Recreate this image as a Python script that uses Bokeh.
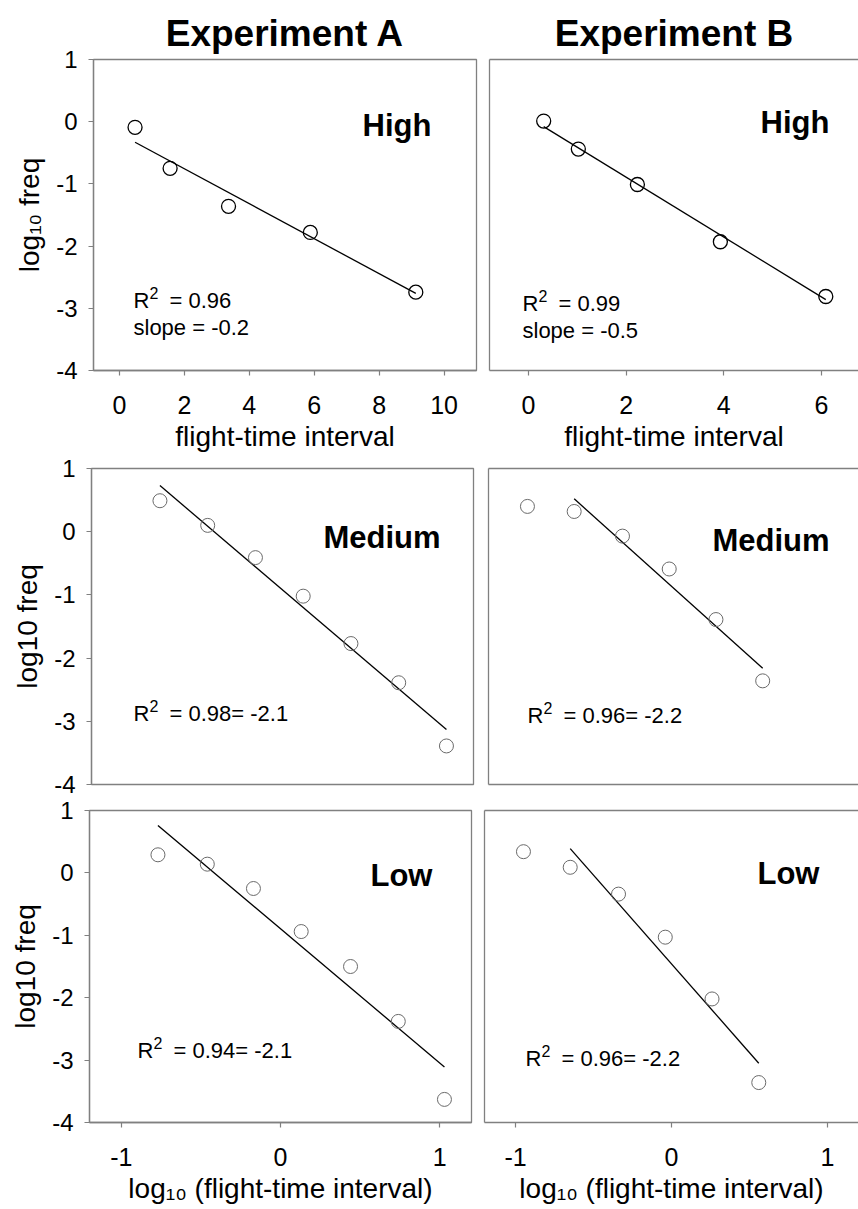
import math
from bokeh.plotting import figure
from bokeh.layouts import column, row
from bokeh.models import Label, FixedTicker, LinearAxis, Title
from bokeh.embed import file_html
from bokeh.resources import INLINE

# ---------------- data ----------------
y_ticks = [1, 0, -1, -2, -3, -4]
high_a_ticks = [0, 2, 4, 6, 8, 10]
high_b_ticks = [0, 2, 4, 6]
log_ticks = [-1, 0, 1]

high_a_x = [0.48, 1.56, 3.36, 5.88, 9.13]
high_a_y = [-0.09, -0.75, -1.36, -1.78, -2.74]
high_a_fit_x = [0.48, 9.13]
high_a_fit_y = [-0.33, -2.76]

high_b_x = [0.31, 1.02, 2.23, 3.93, 6.09]
high_b_y = [0.01, -0.44, -1.01, -1.93, -2.81]
high_b_fit_x = [0.31, 6.09]
high_b_fit_y = [-0.08, -2.86]

med_a_x = [-0.77, -0.47, -0.17, 0.13, 0.43, 0.73, 1.03]
med_a_y = [0.49, 0.10, -0.41, -1.02, -1.77, -2.39, -3.39]
med_a_fit_x = [-0.77, 1.03]
med_a_fit_y = [0.73, -3.13]

med_b_x = [-0.95, -0.65, -0.34, -0.04, 0.26, 0.56]
med_b_y = [0.40, 0.32, -0.07, -0.59, -1.39, -2.36]
med_b_fit_x = [-0.65, 0.56]
med_b_fit_y = [0.52, -2.16]

low_a_x = [-0.77, -0.46, -0.17, 0.13, 0.44, 0.74, 1.03]
low_a_y = [0.29, 0.14, -0.25, -0.94, -1.50, -2.38, -3.63]
low_a_fit_x = [-0.77, 1.03]
low_a_fit_y = [0.76, -3.11]

low_b_x = [-0.95, -0.65, -0.34, -0.04, 0.26, 0.56]
low_b_y = [0.34, 0.09, -0.34, -1.03, -2.02, -3.36]
low_b_fit_x = [-0.65, 0.56]
low_b_fit_y = [0.39, -3.05]

titles = ["Experiment A", "Experiment B"]
levels = ["High", "Medium", "Low"]
stats = {
    "A1": ("= 0.96", "slope = -0.2"),
    "B1": ("= 0.99", "slope = -0.5"),
    "A2": ("= 0.98= -2.1", None),
    "B2": ("= 0.96= -2.2", None),
    "A3": ("= 0.94= -2.1", None),
    "B3": ("= 0.96= -2.2", None),
}
ylabel_top = "log\u2081\u2080 freq"
ylabel_other = "log10 freq"
xlabel_top = "flight-time interval"
xlabel_bottom = "log\u2081\u2080 (flight-time interval)"

# ---------------- layout (page pixels) ----------------
FONT = "Liberation Sans"
AX = "#808080"

frames = {  # left, right, top, bottom of plot frame
    "A1": (93, 476, 59, 376), "B1": (489, 858, 59, 376),
    "A2": (91, 473, 468, 784), "B2": (488, 858, 468, 784),
    "A3": (89, 471, 810, 1122), "B3": (484, 858, 810, 1122),
}
cells = {  # figure canvas: x0, x1, y0, y1
    "A1": (0, 478, 0, 454), "B1": (478, 858, 0, 454),
    "A2": (0, 478, 454, 798), "B2": (478, 858, 454, 798),
    "A3": (0, 478, 798, 1209), "B3": (478, 858, 798, 1209),
}
xranges = {
    "A1": (-0.8, 11.0), "B1": (-0.8, 6.76),
    "A2": (-1.2, 1.2), "B2": (-1.2, 1.175),
    "A3": (-1.2, 1.2), "B3": (-1.2, 1.2),
}
yrange = (-4, 1)


def to_data(key, ix, iy):
    fl, fr, ft, fb = frames[key]
    x0, x1 = xranges[key]
    y0, y1 = yrange
    return (x0 + (ix - fl) / (fr - fl) * (x1 - x0),
            y1 - (iy - ft) / (fb - ft) * (y1 - y0))


def lab(p, key, ix, iy, text, size, bold=False, align="left"):
    x, y = to_data(key, ix, iy)
    p.add_layout(Label(x=x, y=y, text=text, text_font=FONT,
                       text_font_size=f"{size}px",
                       text_font_style="bold" if bold else "normal",
                       text_color="black", text_align=align,
                       text_baseline="alphabetic"))


def style_axis(ax, ticks, standoff=10, size=25):
    if ticks:
        ax.ticker = FixedTicker(ticks=ticks)
        ax.major_label_overrides = {t: str(t) for t in ticks}
        ax.major_tick_out = 5
        ax.major_label_standoff = standoff
    else:
        ax.ticker = FixedTicker(ticks=[])
        ax.major_tick_out = 0
        ax.major_label_standoff = 0
    ax.major_tick_in = 0
    ax.minor_tick_out = 0
    ax.minor_tick_in = 0
    ax.axis_line_color = AX
    ax.axis_line_width = 1.3
    ax.major_tick_line_color = AX
    ax.major_tick_line_width = 1.2
    ax.major_label_text_font = FONT
    ax.major_label_text_font_size = f"{size}px"
    ax.major_label_text_color = "black"
    ax.axis_label = None


def set_axis_label(ax, text, standoff):
    ax.axis_label = text
    ax.axis_label_text_font = FONT
    ax.axis_label_text_font_size = "28px"
    ax.axis_label_text_font_style = "normal"
    ax.axis_label_text_color = "black"
    ax.axis_label_standoff = standoff


def make_panel(key, xs, ys, fx, fy, xticks, dark):
    fl, fr, ft, fb = frames[key]
    cx0, cx1, cy0, cy1 = cells[key]
    p = figure(width=cx1 - cx0, height=cy1 - cy0,
               x_range=xranges[key], y_range=yrange,
               min_border_left=fl - cx0, min_border_right=cx1 - fr,
               min_border_top=ft - cy0, min_border_bottom=cy1 - fb,
               output_backend="svg", toolbar_location=None)
    p.grid.visible = False
    p.background_fill_color = "white"
    p.border_fill_color = "white"
    is_a = key.startswith("A")
    rownum = int(key[1])
    left = p.left[0]
    below = p.below[0]
    if is_a:
        p.outline_line_color = AX
        p.outline_line_width = 1.3
        style_axis(left, y_ticks, 11, 24)
        set_axis_label(left, ylabel_top if rownum == 1 else ylabel_other, 8)
    else:
        p.outline_line_color = None
        style_axis(left, None)
        top = LinearAxis()
        style_axis(top, None)
        p.add_layout(top, "above")
    if rownum == 2:
        if is_a:
            below.visible = False
        else:
            style_axis(below, None)
    elif rownum == 1:
        style_axis(below, xticks, 20)
        set_axis_label(below, xlabel_top, 4)
    else:
        style_axis(below, xticks, 20)
        set_axis_label(below, xlabel_bottom, 4)

    p.line(fx, fy, line_color="black", line_width=1.3)
    p.scatter(xs, ys, marker="circle", size=14, fill_color=None,
              line_color="black" if dark else "#6a6a6a",
              line_width=1.3 if dark else 1.0)
    return p


pA1 = make_panel("A1", high_a_x, high_a_y, high_a_fit_x, high_a_fit_y, high_a_ticks, True)
pB1 = make_panel("B1", high_b_x, high_b_y, high_b_fit_x, high_b_fit_y, high_b_ticks, True)
pA2 = make_panel("A2", med_a_x, med_a_y, med_a_fit_x, med_a_fit_y, None, False)
pB2 = make_panel("B2", med_b_x, med_b_y, med_b_fit_x, med_b_fit_y, None, False)
pA3 = make_panel("A3", low_a_x, low_a_y, low_a_fit_x, low_a_fit_y, log_ticks, False)
pB3 = make_panel("B3", low_b_x, low_b_y, low_b_fit_x, low_b_fit_y, log_ticks, False)

panels = {"A1": pA1, "B1": pB1, "A2": pA2, "B2": pB2, "A3": pA3, "B3": pB3}

# column titles
for p, text, off in ((pA1, titles[0], -8), (pB1, titles[1], -2)):
    p.add_layout(Title(text=text, align="center", offset=off, standoff=12,
                       text_font=FONT, text_font_size="37px",
                       text_font_style="bold", text_color="black"), "above")

# level names
level_pos = {"A1": (362, 126), "B1": (760, 123), "A2": (323, 537),
             "B2": (712, 540), "A3": (370, 875), "B3": (757, 873)}
for key, (ix, iy) in level_pos.items():
    lab(panels[key], key, ix, iy, levels[int(key[1]) - 1], 31, bold=True)

# R^2 / slope annotations
stat_pos = {"A1": (133, 305), "B1": (522, 308), "A2": (133, 713),
            "B2": (527, 715), "A3": (137, 1050), "B3": (525, 1058)}
for key, (ix, iy) in stat_pos.items():
    p = panels[key]
    rest, line2 = stats[key]
    lab(p, key, ix, iy, "R", 22)
    lab(p, key, ix + 16, iy - 8, "2", 16)
    lab(p, key, ix + 36, iy, rest, 22)
    if line2:
        lab(p, key, ix, iy + 27, line2, 22)

layout = column(row(pA1, pB1), row(pA2, pB2), row(pA3, pB3))
open("out.html", "w").write(file_html(layout, INLINE))
